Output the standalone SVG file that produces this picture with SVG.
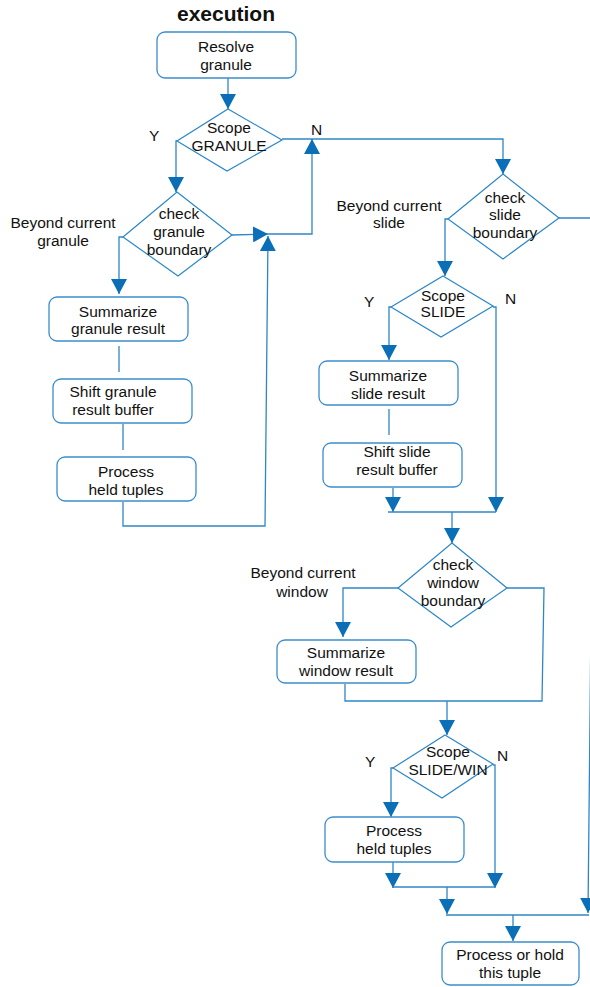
<svg xmlns="http://www.w3.org/2000/svg" width="590" height="987" viewBox="0 0 590 987">
  <style>
    .box { fill: #ffffff; stroke: #3b8dcb; stroke-width: 1.3; }
    .dia { fill: #ffffff; stroke: #2a86c8; stroke-width: 1.2; }
    .lbl { font-family: "Liberation Sans", Arial, sans-serif; font-size: 15.5px; fill: #111111; text-anchor: middle; }
    .side { font-family: "Liberation Sans", Arial, sans-serif; font-size: 15.5px; fill: #111111; }
    .title { font-family: "Liberation Sans", Arial, sans-serif; font-size: 21px; font-weight: bold; fill: #111111; text-anchor: middle; }
    .wire { fill: none; stroke: #2f86c6; stroke-width: 1.3; }
    .arr { marker-end: url(#head); }
  </style>
  <defs>
    <marker id="head" markerUnits="userSpaceOnUse" markerWidth="16" markerHeight="16" refX="15" refY="8" orient="auto">
      <path d="M0,0 L15,8 L0,16 Z" fill="#0b6fb8"/>
    </marker>
  </defs>

  <rect width="590" height="987" fill="#ffffff"/>

  <text class="title" x="226" y="21">execution</text>

  <!-- connectors -->
  <g id="connectors">
    <path class="wire arr" d="M228,78 V109"/>
    <path class="wire arr" d="M177,141 H176 V192"/>
    <path class="wire arr" d="M123,237 H119 V294"/>
    <path class="wire arr" d="M232,235 L268,234"/>
    <path class="wire" d="M119,346 V372"/>
    <path class="wire" d="M123,424 V450"/>
    <path class="wire arr" d="M123,502 V526 H265 L268,236"/>
    <path class="wire arr" d="M268,234 H312 V139"/>
    <path class="wire arr" d="M282,139 H503 V174"/>
    <path class="wire arr" d="M559,218 H596 L590.6,660 L588,913"/>
    <path class="wire arr" d="M448,219 H445 V276"/>
    <path class="wire arr" d="M391,307 H389 V360"/>
    <path class="wire arr" d="M493,307 H496 V512"/>
    <path class="wire" d="M389,409 V435"/>
    <path class="wire arr" d="M393,488 V512"/>
    <path class="wire" d="M388,512 H496"/>
    <path class="wire arr" d="M452,512 V543"/>
    <path class="wire arr" d="M398,588 H343 V637"/>
    <path class="wire" d="M507,588 H544 L542,701 H345 V684"/>
    <path class="wire arr" d="M447,701 V735"/>
    <path class="wire arr" d="M393,768 H391 V817"/>
    <path class="wire arr" d="M493,765 H495 V888"/>
    <path class="wire arr" d="M393,862 V888"/>
    <path class="wire" d="M392,887 H495"/>
    <path class="wire arr" d="M447,887 V914"/>
    <path class="wire" d="M446,915 H589"/>
    <path class="wire arr" d="M513,915 V941"/>
  </g>

  <!-- nodes -->
  <g id="resolve-granule">
    <rect class="box" x="157" y="32" width="139" height="46" rx="8"/>
    <text class="lbl" x="226" y="52">Resolve</text>
    <text class="lbl" x="226" y="70">granule</text>
  </g>

  <g id="scope-granule">
    <polygon class="dia" points="228,109 282,140 227,171 177,141"/>
    <text class="lbl" x="229" y="133">Scope</text>
    <text class="lbl" x="229" y="151">GRANULE</text>
    <text class="side" x="149" y="141">Y</text>
    <text class="side" x="311" y="135">N</text>
  </g>

  <g id="check-granule">
    <polygon class="dia" points="177,192 232,235 178,276 123,237"/>
    <text class="lbl" x="179" y="219">check</text>
    <text class="lbl" x="179" y="237">granule</text>
    <text class="lbl" x="179" y="255">boundary</text>
    <text class="lbl" x="63" y="228">Beyond current</text>
    <text class="lbl" x="63" y="246">granule</text>
  </g>

  <g id="summarize-granule">
    <rect class="box" x="49" y="297" width="139" height="44" rx="8"/>
    <text class="lbl" x="118" y="317">Summarize</text>
    <text class="lbl" x="118" y="334">granule result</text>
  </g>

  <g id="shift-granule">
    <rect class="box" x="53" y="379" width="139" height="44" rx="8"/>
    <text class="lbl" x="113" y="397">Shift granule</text>
    <text class="lbl" x="113" y="415">result buffer</text>
  </g>

  <g id="process-held-granule">
    <rect class="box" x="57" y="457" width="139" height="44" rx="8"/>
    <text class="lbl" x="126" y="477">Process</text>
    <text class="lbl" x="126" y="495">held tuples</text>
  </g>

  <g id="check-slide">
    <polygon class="dia" points="503,174 559,218 503,259 448,219"/>
    <text class="lbl" x="505" y="203">check</text>
    <text class="lbl" x="505" y="220">slide</text>
    <text class="lbl" x="505" y="238">boundary</text>
    <text class="lbl" x="389" y="211">Beyond current</text>
    <text class="lbl" x="389" y="228">slide</text>
  </g>

  <g id="scope-slide">
    <polygon class="dia" points="443,276 493,306 441,337 391,307"/>
    <text class="lbl" x="443" y="301">Scope</text>
    <text class="lbl" x="443" y="317">SLIDE</text>
    <text class="side" x="364" y="307">Y</text>
    <text class="side" x="505" y="304">N</text>
  </g>

  <g id="summarize-slide">
    <rect class="box" x="319" y="361" width="139" height="44" rx="8"/>
    <text class="lbl" x="388" y="381">Summarize</text>
    <text class="lbl" x="388" y="399">slide result</text>
  </g>

  <g id="shift-slide">
    <rect class="box" x="323" y="443" width="139" height="44" rx="8"/>
    <text class="lbl" x="397" y="457">Shift slide</text>
    <text class="lbl" x="397" y="475">result buffer</text>
  </g>

  <g id="check-window">
    <polygon class="dia" points="452,543 507,588 451,627 398,588"/>
    <text class="lbl" x="453" y="570">check</text>
    <text class="lbl" x="453" y="588">window</text>
    <text class="lbl" x="453" y="606">boundary</text>
    <text class="lbl" x="303" y="578">Beyond current</text>
    <text class="lbl" x="302" y="597">window</text>
  </g>

  <g id="summarize-window">
    <rect class="box" x="277" y="640" width="139" height="43" rx="8"/>
    <text class="lbl" x="346" y="658">Summarize</text>
    <text class="lbl" x="346" y="676">window result</text>
  </g>

  <g id="scope-slide-win">
    <polygon class="dia" points="445,735 493,764 442,798 393,768"/>
    <text class="lbl" x="448" y="757">Scope</text>
    <text class="lbl" x="448" y="775">SLIDE/WIN</text>
    <text class="side" x="365" y="767">Y</text>
    <text class="side" x="497" y="761">N</text>
  </g>

  <g id="process-held-window">
    <rect class="box" x="325" y="817" width="139" height="45" rx="8"/>
    <text class="lbl" x="394" y="836">Process</text>
    <text class="lbl" x="394" y="854">held tuples</text>
  </g>

  <g id="process-or-hold">
    <rect class="box" x="442" y="942" width="137" height="43" rx="8"/>
    <text class="lbl" x="510" y="960">Process or hold</text>
    <text class="lbl" x="510" y="978">this tuple</text>
  </g>
</svg>
